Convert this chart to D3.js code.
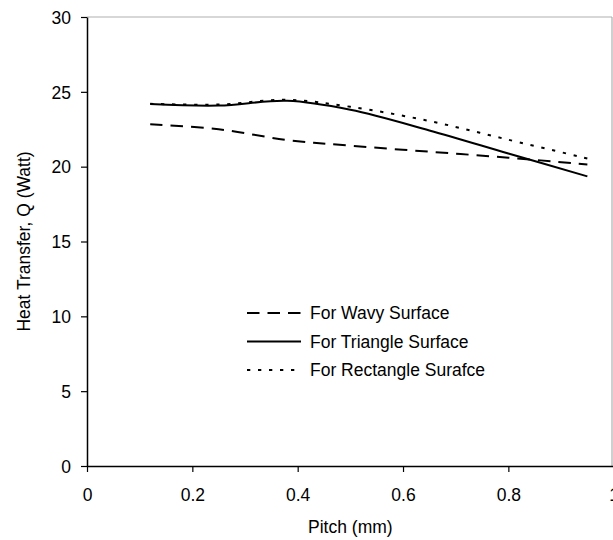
<!DOCTYPE html>
<html><head><meta charset="utf-8">
<script src="https://cdn.jsdelivr.net/npm/d3@7"></script>
<style>body{margin:0;background:#fff}svg{display:block}text{font-family:"Liberation Sans",Arial,sans-serif;fill:#000}</style>
</head><body><svg id="c" width="613" height="540"></svg>
<script>
const pitch = [0.12, 0.25, 0.38, 0.5, 0.65, 0.8, 0.95];
const wavy = [22.83, 22.5, 21.78, 21.4, 21.0, 20.6, 20.15];
const triangle = [24.18, 24.08, 24.4, 23.8, 22.42, 20.88, 19.35];
const rectangle = [24.2, 24.15, 24.47, 24.0, 23.05, 21.8, 20.55];
const xTicks = [0, 0.2, 0.4, 0.6, 0.8, 1];
const yTicks = [0, 5, 10, 15, 20, 25, 30];
const seriesNames = ["For Wavy Surface", "For Triangle Surface", "For Rectangle Surafce"];

const svg = d3.select("#c");
const L = 87, R = 613.7, T = 17, B = 466;
const x = d3.scaleLinear().domain([0, 1]).range([L, R]);
const y = d3.scaleLinear().domain([0, 30]).range([B, T]);
const fs = 17.5;

// frame (top/right grey)
svg.append("line").attr("x1", L).attr("x2", 612).attr("y1", T).attr("y2", T).attr("stroke", "#b0b0b0").attr("stroke-width", 1.2);
svg.append("line").attr("x1", 612).attr("x2", 612).attr("y1", T).attr("y2", B).attr("stroke", "#b0b0b0").attr("stroke-width", 1.2);

const xAxis = svg.append("g").attr("transform", `translate(0,${B})`)
  .call(d3.axisBottom(x).tickValues(xTicks).tickSize(6).tickSizeOuter(0).tickFormat(d => d3.format("")(d)));
const yAxis = svg.append("g").attr("transform", `translate(${L},0)`)
  .call(d3.axisLeft(y).tickValues(yTicks).tickSize(6).tickSizeOuter(0));
[xAxis, yAxis].forEach(g => {
  g.select(".domain").attr("stroke", "#000").attr("stroke-width", 1.5);
  g.selectAll(".tick line").attr("stroke", "#000").attr("stroke-width", 1.2);
  g.selectAll(".tick text").attr("font-size", fs).attr("font-family", "Liberation Sans, Arial, sans-serif").attr("fill", "#000");
});
xAxis.selectAll(".tick text").attr("dy", "0").attr("y", 35);
yAxis.selectAll(".tick text").attr("x", -16).attr("dy", "0.36em");

svg.append("text").attr("x", (L + R) / 2).attr("y", 533).attr("text-anchor", "middle").attr("font-size", fs).text("Pitch (mm)");
svg.append("text").attr("transform", `translate(30,${(T + B) / 2}) rotate(-90)`).attr("text-anchor", "middle").attr("font-size", fs).text("Heat Transfer, Q (Watt)");

const styles = [
  {data: wavy, dash: "12.5,8"},
  {data: triangle, dash: null},
  {data: rectangle, dash: "3.3,7.7"}
];
const line = d3.line().x(d => x(d[0])).y(d => y(d[1])).curve(d3.curveCatmullRom.alpha(0.5));
styles.forEach(s => {
  svg.append("path").datum(pitch.map((p, i) => [p, s.data[i]]))
    .attr("d", line).attr("fill", "none").attr("stroke", "#000").attr("stroke-width", 2)
    .attr("stroke-dasharray", s.dash);
});

// legend
const ly = [313, 341.5, 370];
styles.forEach((s, i) => {
  svg.append("line").attr("x1", 247).attr("x2", 301).attr("y1", ly[i]).attr("y2", ly[i])
    .attr("stroke", "#000").attr("stroke-width", 2).attr("stroke-dasharray", s.dash);
  svg.append("text").attr("x", 310).attr("y", ly[i]).attr("dy", "0.36em").attr("font-size", fs).text(seriesNames[i]);
});
</script></body></html>
